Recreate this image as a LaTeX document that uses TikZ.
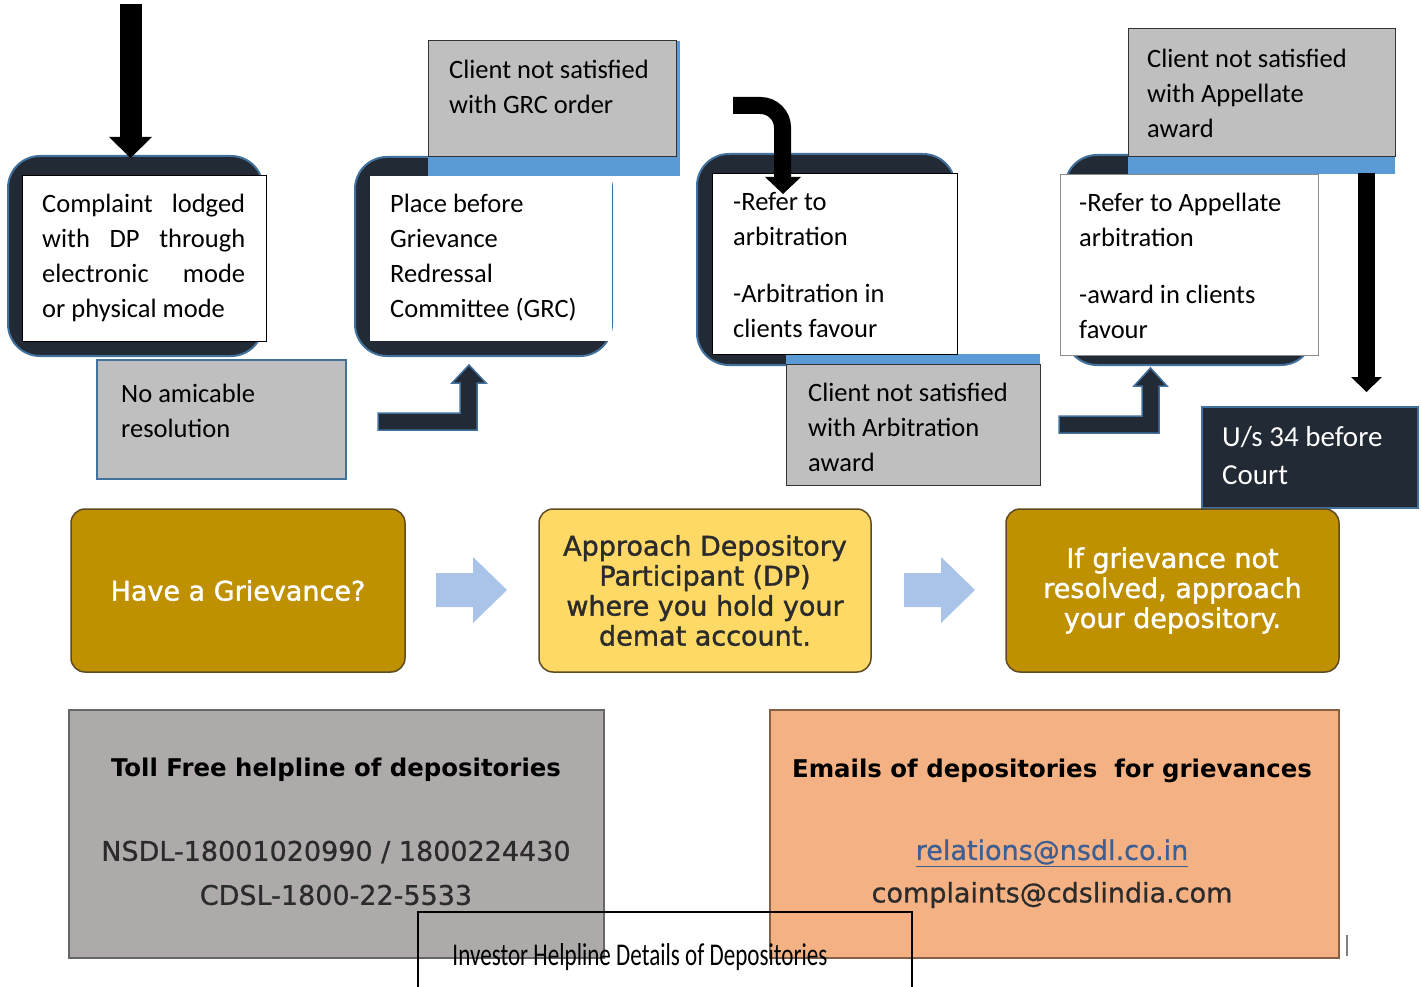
\documentclass[tikz,border=0pt]{standalone}
\usepackage{fontspec}
\usepackage{graphicx}
\setmainfont{Carlito}
\newfontfamily\vfont{DejaVu Sans}
\newfontfamily\vfontmid[FakeBold=1.4]{DejaVu Sans}
\newfontfamily\vfontlow[FakeBold=0.8]{DejaVu Sans}
\definecolor{navy}{HTML}{222A35}
\definecolor{bord}{HTML}{41719C}
\definecolor{band}{HTML}{5B9BD5}
\definecolor{boxgray}{HTML}{BFBFBF}
\definecolor{gold}{HTML}{BF9000}
\definecolor{lightgold}{HTML}{FFD966}
\definecolor{goldedge}{HTML}{5E4B24}
\definecolor{arrowblue}{HTML}{A9C4E8}
\definecolor{helpgray}{HTML}{AEAAAA}
\definecolor{peach}{HTML}{F4B183}
\definecolor{mailblue}{HTML}{3E5F93}
\definecolor{darktext}{HTML}{2B2B2B}
\tikzset{
  roundback/.style={fill=navy, draw=bord, line width=2pt, rounded corners=32pt, inner sep=0pt},
  whitebox/.style={fill=white, draw=black, line width=0.8pt, inner sep=0pt},
  graybox/.style={fill=boxgray, draw=black!80, line width=1pt, inner sep=0pt},
  bandbox/.style={fill=band, inner sep=0pt},
  toptext/.style={font=\fontsize{26.5}{35}\selectfont, align=left, anchor=north west, inner sep=0pt, text=black},
  thickarrow/.style={draw=black, line width=#1},
  headfill/.style={fill=black},
  bentarrow/.style={fill=navy, draw=bord, line width=1.5pt},
  lightarrow/.style={fill=arrowblue},
  goldbox/.style={rounded corners=14pt, draw=goldedge, line width=1.5pt, inner sep=0pt, align=center,
     font=\vfontmid\fontsize{27}{30}\selectfont},
  helpbox/.style={inner sep=0pt, line width=1.2pt},
  helptext/.style={inner sep=0pt, text=darktext, font=\vfontlow\fontsize{27}{30}\selectfont},
  helphead/.style={inner sep=0pt, text=black, font=\vfont\bfseries\fontsize{24.4}{30}\selectfont}
}
\begin{document}
\begin{tikzpicture}[x=1pt,y=-1pt]
\useasboundingbox (0,0) rectangle (1422,987);
\fill[white] (0,0) rectangle (1422,987);

% ---------- Box 1 ----------
\node[roundback, minimum width=255pt, minimum height=200pt] (r1) at (135.5,256) {};
\node[whitebox, minimum width=244pt, minimum height=166pt] (w1) at (144,258) {};
\node[toptext] (t1) at (42,194) {\hbox to 203pt{Complaint\hfill lodged}\\\hbox to 203pt{with\hfill DP\hfill through}\\\hbox to 203pt{electronic\hfill mode}\\or physical mode};
\node[graybox, draw=bord, line width=1.5pt, minimum width=249pt, minimum height=119pt] (n1) at (221.5,419.5) {};
\node[toptext] (nt1) at (121,384) {No amicable\\resolution};
% top arrow
\coordinate (a1s) at (131,4);
\coordinate (a1e) at (131,138);
\draw[thickarrow=22pt] (a1s) -- (a1e);
\fill[headfill] (109,137) -- (152,137) -- (130.5,158) -- cycle;

% ---------- Box 2 ----------
\node[roundback, minimum width=257pt, minimum height=199pt] (r2) at (483.5,256.5) {};
\node[bandbox, minimum width=252pt, minimum height=135pt] (b2) at (554,108.5) {};
\node[graybox, minimum width=248pt, minimum height=116pt] (g2) at (552,99) {};
\node[whitebox, draw=none, minimum width=242pt, minimum height=165pt] (w2) at (491,258.5) {};
\node[toptext] (t2) at (390,194) {Place before\\Grievance\\Redressal\\Committee (GRC)};
\node[toptext] (gt2) at (449,60) {Client not satisfied\\with GRC order};
\draw[bentarrow] (378,413) -- (460,413) -- (460,383) -- (452,383) -- (469,365) -- (486,383) -- (477,383) -- (477,430) -- (378,430) -- cycle;

% ---------- Box 3 ----------
\node[roundback, minimum width=258pt, minimum height=211pt] (r3) at (826,259.5) {};
\node[bandbox, minimum width=254pt, minimum height=131pt] (b3) at (913,419.5) {};
\node[graybox, minimum width=254pt, minimum height=121pt] (g3) at (913,424.5) {};
\node[whitebox, minimum width=245pt, minimum height=181pt] (w3) at (834.5,263.5) {};
\node[toptext] (t3) at (733,192) {-Refer to\\arbitration\\[22pt]-Arbitration in\\clients favour};
\node[toptext] (gt3) at (808,383) {Client not satisfied\\with Arbitration\\award};
\coordinate (c3s) at (733,105.5);
\coordinate (c3m) at (782.5,105.5);
\coordinate (c3e) at (782.5,178);
\draw[thickarrow=17pt, rounded corners=22pt] (c3s) -- (c3m) -- (c3e);
\fill[headfill] (765,177) -- (801,177) -- (783,194) -- cycle;

% ---------- Box 4 ----------
\node[roundback, minimum width=248pt, minimum height=210pt] (r4) at (1189,260) {};
\node[bandbox, minimum width=267pt, minimum height=145pt] (b4) at (1261.5,101.5) {};
\node[graybox, minimum width=267pt, minimum height=128pt] (g4) at (1261.5,93) {};
\node[whitebox, draw=black!45, minimum width=258pt, minimum height=181pt] (w4) at (1189,264.5) {};
\node[toptext] (t4) at (1079,193) {-Refer to Appellate\\arbitration\\[22pt]-award in clients\\favour};
\node[toptext] (gt4) at (1147,49) {Client not satisfied\\with Appellate\\award};
\draw[bentarrow] (1059,416) -- (1142,416) -- (1142,386) -- (1134,386) -- (1150.5,368) -- (1167,386) -- (1159,386) -- (1159,433) -- (1059,433) -- cycle;
% down arrow to court
\coordinate (d4s) at (1366.5,173);
\coordinate (d4e) at (1366.5,378);
\draw[thickarrow=17pt] (d4s) -- (d4e);
\fill[headfill] (1351,377) -- (1382,377) -- (1366.5,392) -- cycle;
\node[fill=navy, draw=bord, line width=2pt, minimum width=216pt, minimum height=101pt, inner sep=0pt] (court) at (1310,457.5) {};
\node[toptext, text=white, font=\fontsize{29}{38}\selectfont] (ct) at (1222,426) {U/s 34 before\\Court};

% ---------- Middle row ----------
\node[goldbox, fill=gold, text=white, minimum width=334pt, minimum height=163pt] (m1) at (238,590.5) {Have a Grievance?};
\node[goldbox, fill=lightgold, text=darktext, minimum width=332pt, minimum height=163pt] (m2) at (705,590.5) {Approach Depository\\Participant (DP)\\where you hold your\\demat account.};
\node[goldbox, fill=gold, text=white, minimum width=333pt, minimum height=163pt] (m3) at (1172.5,590.5) {If grievance not\\resolved, approach\\your depository.};
\fill[lightarrow] (436,573) -- (473,573) -- (473,557) -- (507,590) -- (473,623) -- (473,607) -- (436,607) -- cycle;
\fill[lightarrow] (904,573) -- (941,573) -- (941,557) -- (975,590) -- (941,623) -- (941,607) -- (904,607) -- cycle;

% ---------- Bottom ----------
\node[helpbox, fill=helpgray, draw=black!60, minimum width=535pt, minimum height=248pt] (h1) at (336.5,834) {};
\node[helpbox, fill=peach, draw=black!45!peach, minimum width=569pt, minimum height=248pt] (h2) at (1054.5,834) {};
\node[helphead] (h1a) at (336,770) {Toll Free helpline of depositories};
\node[helptext] (h1b) at (336,852) {NSDL-18001020990 / 1800224430};
\node[helptext] (h1c) at (336,895) {CDSL-1800-22-5533};
\node[helphead] (h2a) at (1052,771) {Emails of depositories\ \ for grievances};
\node[helptext, text=mailblue] (h2b) at (1052,853) {\underline{relations@nsdl.co.in}};
\node[helptext] (h2c) at (1052,895) {complaints@cdslindia.com};
\draw[black!50, line width=1.5pt] (1347,935) -- (1347,956);

% caption
\coordinate (cp1) at (418,988);
\coordinate (cp2) at (418,912);
\coordinate (cp3) at (912,912);
\coordinate (cp4) at (912,988);
\draw[black, line width=1.5pt] (cp1) -- (cp2) -- (cp3) -- (cp4);
\node[inner sep=0pt] (cap) at (640,957) {\resizebox{375pt}{22pt}{Investor Helpline Details of Depositories}};
\end{tikzpicture}
\end{document}
